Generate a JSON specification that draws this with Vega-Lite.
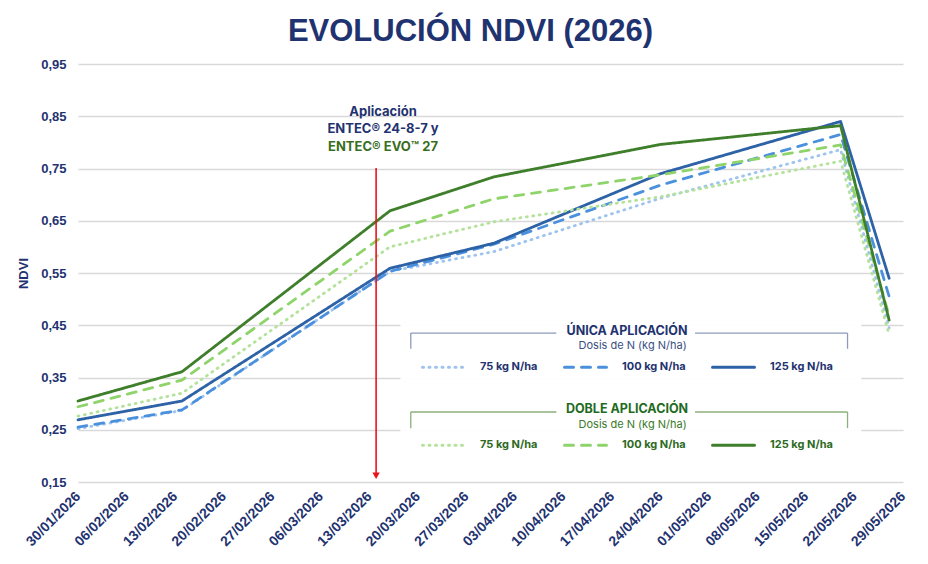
{
  "$schema": "https://vega.github.io/schema/vega-lite/v6.json",
  "description": "Evolución del NDVI en 2026 según dosis de N y número de aplicaciones.",
  "width": 825,
  "height": 418,
  "autosize": "none",
  "padding": {"left": 78, "top": 64, "right": 25, "bottom": 82},
  "background": "white",
  "title": {
    "text": "EVOLUCIÓN NDVI (2026)",
    "font": "Liberation Sans, Arial, sans-serif",
    "fontSize": 31,
    "fontWeight": "bold",
    "color": "#1f3370",
    "anchor": "middle",
    "offset": 10,
    "dx": -20
  },
  "config": {
    "view": {"stroke": null},
    "font": "Inter"
  },
  "datasets": {
    "ndvi": [
      {"fecha": "2026-01-30", "ndvi": 0.252, "grupo": "unica", "dosis": "75 kg N/ha"},
      {"fecha": "2026-02-14", "ndvi": 0.287, "grupo": "unica", "dosis": "75 kg N/ha"},
      {"fecha": "2026-03-16", "ndvi": 0.553, "grupo": "unica", "dosis": "75 kg N/ha"},
      {"fecha": "2026-03-31", "ndvi": 0.591, "grupo": "unica", "dosis": "75 kg N/ha"},
      {"fecha": "2026-04-24", "ndvi": 0.693, "grupo": "unica", "dosis": "75 kg N/ha"},
      {"fecha": "2026-05-20", "ndvi": 0.786, "grupo": "unica", "dosis": "75 kg N/ha"},
      {"fecha": "2026-05-27", "ndvi": 0.445, "grupo": "unica", "dosis": "75 kg N/ha"},
      {"fecha": "2026-01-30", "ndvi": 0.255, "grupo": "unica", "dosis": "100 kg N/ha"},
      {"fecha": "2026-02-14", "ndvi": 0.288, "grupo": "unica", "dosis": "100 kg N/ha"},
      {"fecha": "2026-03-16", "ndvi": 0.553, "grupo": "unica", "dosis": "100 kg N/ha"},
      {"fecha": "2026-03-31", "ndvi": 0.605, "grupo": "unica", "dosis": "100 kg N/ha"},
      {"fecha": "2026-04-24", "ndvi": 0.718, "grupo": "unica", "dosis": "100 kg N/ha"},
      {"fecha": "2026-05-20", "ndvi": 0.815, "grupo": "unica", "dosis": "100 kg N/ha"},
      {"fecha": "2026-05-27", "ndvi": 0.505, "grupo": "unica", "dosis": "100 kg N/ha"},
      {"fecha": "2026-01-30", "ndvi": 0.269, "grupo": "unica", "dosis": "125 kg N/ha"},
      {"fecha": "2026-02-14", "ndvi": 0.305, "grupo": "unica", "dosis": "125 kg N/ha"},
      {"fecha": "2026-03-16", "ndvi": 0.559, "grupo": "unica", "dosis": "125 kg N/ha"},
      {"fecha": "2026-03-31", "ndvi": 0.607, "grupo": "unica", "dosis": "125 kg N/ha"},
      {"fecha": "2026-04-24", "ndvi": 0.740, "grupo": "unica", "dosis": "125 kg N/ha"},
      {"fecha": "2026-05-20", "ndvi": 0.840, "grupo": "unica", "dosis": "125 kg N/ha"},
      {"fecha": "2026-05-27", "ndvi": 0.540, "grupo": "unica", "dosis": "125 kg N/ha"},
      {"fecha": "2026-01-30", "ndvi": 0.276, "grupo": "doble", "dosis": "75 kg N/ha"},
      {"fecha": "2026-02-14", "ndvi": 0.320, "grupo": "doble", "dosis": "75 kg N/ha"},
      {"fecha": "2026-03-16", "ndvi": 0.600, "grupo": "doble", "dosis": "75 kg N/ha"},
      {"fecha": "2026-03-31", "ndvi": 0.648, "grupo": "doble", "dosis": "75 kg N/ha"},
      {"fecha": "2026-04-24", "ndvi": 0.696, "grupo": "doble", "dosis": "75 kg N/ha"},
      {"fecha": "2026-05-20", "ndvi": 0.764, "grupo": "doble", "dosis": "75 kg N/ha"},
      {"fecha": "2026-05-27", "ndvi": 0.432, "grupo": "doble", "dosis": "75 kg N/ha"},
      {"fecha": "2026-01-30", "ndvi": 0.294, "grupo": "doble", "dosis": "100 kg N/ha"},
      {"fecha": "2026-02-14", "ndvi": 0.345, "grupo": "doble", "dosis": "100 kg N/ha"},
      {"fecha": "2026-03-16", "ndvi": 0.630, "grupo": "doble", "dosis": "100 kg N/ha"},
      {"fecha": "2026-03-31", "ndvi": 0.692, "grupo": "doble", "dosis": "100 kg N/ha"},
      {"fecha": "2026-04-24", "ndvi": 0.738, "grupo": "doble", "dosis": "100 kg N/ha"},
      {"fecha": "2026-05-20", "ndvi": 0.795, "grupo": "doble", "dosis": "100 kg N/ha"},
      {"fecha": "2026-05-27", "ndvi": 0.468, "grupo": "doble", "dosis": "100 kg N/ha"},
      {"fecha": "2026-01-30", "ndvi": 0.305, "grupo": "doble", "dosis": "125 kg N/ha"},
      {"fecha": "2026-02-14", "ndvi": 0.361, "grupo": "doble", "dosis": "125 kg N/ha"},
      {"fecha": "2026-03-16", "ndvi": 0.669, "grupo": "doble", "dosis": "125 kg N/ha"},
      {"fecha": "2026-03-31", "ndvi": 0.734, "grupo": "doble", "dosis": "125 kg N/ha"},
      {"fecha": "2026-04-24", "ndvi": 0.796, "grupo": "doble", "dosis": "125 kg N/ha"},
      {"fecha": "2026-05-20", "ndvi": 0.832, "grupo": "doble", "dosis": "125 kg N/ha"},
      {"fecha": "2026-05-27", "ndvi": 0.460, "grupo": "doble", "dosis": "125 kg N/ha"}
    ],
    "fondo_leyenda": [
      {"fecha": "2026-03-17T12:00:00Z", "fecha2": "2026-05-23", "ndvi": 0.483, "ndvi2": 0.161}
    ],
    "corchetes": [
      {"fecha": "2026-03-19", "fecha2": "2026-04-09", "ndvi": 0.435, "ndvi2": 0.435, "grupo": "unica"},
      {"fecha": "2026-04-29", "fecha2": "2026-05-21", "ndvi": 0.435, "ndvi2": 0.435, "grupo": "unica"},
      {"fecha": "2026-03-19", "fecha2": "2026-03-19", "ndvi": 0.435, "ndvi2": 0.405, "grupo": "unica"},
      {"fecha": "2026-05-21", "fecha2": "2026-05-21", "ndvi": 0.435, "ndvi2": 0.405, "grupo": "unica"},
      {"fecha": "2026-03-19", "fecha2": "2026-04-09", "ndvi": 0.284, "ndvi2": 0.284, "grupo": "doble"},
      {"fecha": "2026-04-29", "fecha2": "2026-05-21", "ndvi": 0.284, "ndvi2": 0.284, "grupo": "doble"},
      {"fecha": "2026-03-19", "fecha2": "2026-03-19", "ndvi": 0.284, "ndvi2": 0.253, "grupo": "doble"},
      {"fecha": "2026-05-21", "fecha2": "2026-05-21", "ndvi": 0.284, "ndvi2": 0.253, "grupo": "doble"}
    ],
    "aplicacion": [
      {"fecha": "2026-03-14", "ndvi": 0.751, "ndvi2": 0.162}
    ],
    "nota": [
      {"fecha": "2026-03-15", "ndvi": 0.858, "texto": "Aplicación", "tono": "azul"},
      {"fecha": "2026-03-15", "ndvi": 0.825, "texto": "ENTEC® 24-8-7 y", "tono": "azul"},
      {"fecha": "2026-03-15", "ndvi": 0.791, "texto": "ENTEC® EVO™ 27", "tono": "verde"}
    ],
    "subtitulos": [
      {"fecha": "2026-04-20", "ndvi": 0.410, "texto": "Dosis de N (kg N/ha)", "tono": "azul"},
      {"fecha": "2026-04-20", "ndvi": 0.259, "texto": "Dosis de N (kg N/ha)", "tono": "verde"}
    ]
  },
  "encoding": {
    "x": {
      "field": "fecha",
      "type": "temporal",
      "title": null,
      "scale": {
        "type": "utc",
        "domain": [
          {"year": 2026, "month": 1, "date": 30, "utc": true},
          {"year": 2026, "month": 5, "date": 29, "utc": true}
        ]
      },
      "axis": {
        "values": [
          {"year": 2026, "month": 1, "date": 30, "utc": true},
          {"year": 2026, "month": 2, "date": 6, "utc": true},
          {"year": 2026, "month": 2, "date": 13, "utc": true},
          {"year": 2026, "month": 2, "date": 20, "utc": true},
          {"year": 2026, "month": 2, "date": 27, "utc": true},
          {"year": 2026, "month": 3, "date": 6, "utc": true},
          {"year": 2026, "month": 3, "date": 13, "utc": true},
          {"year": 2026, "month": 3, "date": 20, "utc": true},
          {"year": 2026, "month": 3, "date": 27, "utc": true},
          {"year": 2026, "month": 4, "date": 3, "utc": true},
          {"year": 2026, "month": 4, "date": 10, "utc": true},
          {"year": 2026, "month": 4, "date": 17, "utc": true},
          {"year": 2026, "month": 4, "date": 24, "utc": true},
          {"year": 2026, "month": 5, "date": 1, "utc": true},
          {"year": 2026, "month": 5, "date": 8, "utc": true},
          {"year": 2026, "month": 5, "date": 15, "utc": true},
          {"year": 2026, "month": 5, "date": 22, "utc": true},
          {"year": 2026, "month": 5, "date": 29, "utc": true}
        ],
        "format": "%d/%m/%Y",
        "labelAngle": -45,
        "labelAlign": "right",
        "labelBaseline": "middle",
        "labelPadding": 12,
        "labelFont": "Liberation Sans, Arial, sans-serif",
        "labelFontSize": 14,
        "labelFontWeight": "bold",
        "labelColor": "#1f3370",
        "labelOverlap": false,
        "labelBound": false,
        "labelFlush": false,
        "grid": false,
        "domain": false,
        "ticks": false
      }
    },
    "y": {
      "field": "ndvi",
      "type": "quantitative",
      "title": "NDVI",
      "scale": {"domain": [0.15, 0.95], "nice": false, "zero": false},
      "axis": {
        "values": [0.15, 0.25, 0.35, 0.45, 0.55, 0.65, 0.75, 0.85, 0.95],
        "labelExpr": "replace(format(datum.value, '.2f'), '.', ',')",
        "labelFont": "Liberation Sans, Arial, sans-serif",
        "labelFontSize": 13,
        "labelFontWeight": "bold",
        "labelColor": "#1f3370",
        "labelPadding": 12,
        "titleFont": "Liberation Sans, Arial, sans-serif",
        "titleFontSize": 13,
        "titleFontWeight": "bold",
        "titleColor": "#1f3370",
        "titlePadding": 10,
        "grid": true,
        "gridColor": "#d9d9d9",
        "gridWidth": 1.5,
        "domain": false,
        "ticks": false
      }
    }
  },
  "layer": [
    {
      "data": {"name": "fondo_leyenda"},
      "mark": {"type": "rect", "fill": "white", "opacity": 0.93},
      "encoding": {
        "x2": {"field": "fecha2"},
        "y2": {"field": "ndvi2"}
      }
    },
    {
      "data": {"name": "ndvi"},
      "transform": [{"filter": "datum.grupo === 'unica'"}],
      "mark": {"type": "line", "strokeWidth": 2.8, "strokeCap": "round", "strokeJoin": "round"},
      "encoding": {
        "color": {
          "field": "dosis",
          "type": "nominal",
          "sort": ["75 kg N/ha", "100 kg N/ha", "125 kg N/ha"],
          "scale": {
            "domain": ["75 kg N/ha", "100 kg N/ha", "125 kg N/ha"],
            "range": ["#9ec3ee", "#4a90dc", "#2e62a6"]
          },
          "legend": {
            "title": "ÚNICA APLICACIÓN",
            "orient": "none",
            "legendX": 343,
            "legendY": 261,
            "direction": "horizontal",
            "columns": 3,
            "symbolType": "stroke",
            "symbolSize": 1764,
            "symbolStrokeWidth": 3,
            "labelFont": "Inter",
            "labelFontSize": 11,
            "labelFontWeight": "bold",
            "labelColor": "#1f3370",
            "labelOffset": 14,
            "labelLimit": 200,
            "columnPadding": 20,
            "titleFont": "Inter",
            "titleFontSize": 12.5,
            "titleFontWeight": "bold",
            "titleColor": "#1f3370",
            "titleAnchor": "middle",
            "titlePadding": 7,
            "padding": 0,
            "encode": {
              "symbols": {
                "update": {
                  "strokeCap": {"value": "round"},
                  "stroke": [
                    {"test": "datum.value === '75 kg N/ha'", "value": "#4c9be3"},
                    {"test": "datum.value === '125 kg N/ha'", "value": "#1f3a7a"},
                    {"value": "#3c8ddd"}
                  ]
                }
              }
            }
          }
        },
        "strokeDash": {
          "field": "dosis",
          "type": "nominal",
          "sort": ["75 kg N/ha", "100 kg N/ha", "125 kg N/ha"],
          "scale": {
            "domain": ["75 kg N/ha", "100 kg N/ha", "125 kg N/ha"],
            "range": [[1, 5.5], [9, 8], [1, 0]]
          },
          "legend": {
            "title": "ÚNICA APLICACIÓN",
            "orient": "none",
            "legendX": 343,
            "legendY": 261,
            "direction": "horizontal",
            "columns": 3,
            "symbolType": "stroke",
            "symbolSize": 1764,
            "symbolStrokeWidth": 3,
            "labelFont": "Inter",
            "labelFontSize": 11,
            "labelFontWeight": "bold",
            "labelColor": "#1f3370",
            "labelOffset": 14,
            "labelLimit": 200,
            "columnPadding": 20,
            "titleFont": "Inter",
            "titleFontSize": 12.5,
            "titleFontWeight": "bold",
            "titleColor": "#1f3370",
            "titleAnchor": "middle",
            "titlePadding": 7,
            "padding": 0,
            "encode": {
              "symbols": {
                "update": {
                  "strokeCap": {"value": "round"},
                  "stroke": [
                    {"test": "datum.value === '75 kg N/ha'", "value": "#4c9be3"},
                    {"test": "datum.value === '125 kg N/ha'", "value": "#1f3a7a"},
                    {"value": "#3c8ddd"}
                  ]
                }
              }
            }
          }
        }
      }
    },
    {
      "data": {"name": "ndvi"},
      "transform": [{"filter": "datum.grupo === 'doble'"}],
      "mark": {"type": "line", "strokeWidth": 2.8, "strokeCap": "round", "strokeJoin": "round"},
      "encoding": {
        "color": {
          "field": "dosis",
          "type": "nominal",
          "sort": ["75 kg N/ha", "100 kg N/ha", "125 kg N/ha"],
          "scale": {
            "domain": ["75 kg N/ha", "100 kg N/ha", "125 kg N/ha"],
            "range": ["#b3e29a", "#8fd46a", "#3f7f2b"]
          },
          "legend": {
            "title": "DOBLE APLICACIÓN",
            "orient": "none",
            "legendX": 343,
            "legendY": 339,
            "direction": "horizontal",
            "columns": 3,
            "symbolType": "stroke",
            "symbolSize": 1764,
            "symbolStrokeWidth": 3,
            "labelFont": "Inter",
            "labelFontSize": 11,
            "labelFontWeight": "bold",
            "labelColor": "#2d6a1e",
            "labelOffset": 14,
            "labelLimit": 200,
            "columnPadding": 20,
            "titleFont": "Inter",
            "titleFontSize": 12.5,
            "titleFontWeight": "bold",
            "titleColor": "#1f6b1f",
            "titleAnchor": "middle",
            "titlePadding": 7,
            "padding": 0,
            "encode": {
              "symbols": {
                "update": {
                  "strokeCap": {"value": "round"},
                  "stroke": [
                    {"test": "datum.value === '75 kg N/ha'", "value": "#8ed06a"},
                    {"test": "datum.value === '125 kg N/ha'", "value": "#1f6b1f"},
                    {"value": "#7cc655"}
                  ]
                }
              }
            }
          }
        },
        "strokeDash": {
          "field": "dosis",
          "type": "nominal",
          "sort": ["75 kg N/ha", "100 kg N/ha", "125 kg N/ha"],
          "scale": {
            "domain": ["75 kg N/ha", "100 kg N/ha", "125 kg N/ha"],
            "range": [[1, 5.5], [9, 8], [1, 0]]
          },
          "legend": {
            "title": "DOBLE APLICACIÓN",
            "orient": "none",
            "legendX": 343,
            "legendY": 339,
            "direction": "horizontal",
            "columns": 3,
            "symbolType": "stroke",
            "symbolSize": 1764,
            "symbolStrokeWidth": 3,
            "labelFont": "Inter",
            "labelFontSize": 11,
            "labelFontWeight": "bold",
            "labelColor": "#2d6a1e",
            "labelOffset": 14,
            "labelLimit": 200,
            "columnPadding": 20,
            "titleFont": "Inter",
            "titleFontSize": 12.5,
            "titleFontWeight": "bold",
            "titleColor": "#1f6b1f",
            "titleAnchor": "middle",
            "titlePadding": 7,
            "padding": 0,
            "encode": {
              "symbols": {
                "update": {
                  "strokeCap": {"value": "round"},
                  "stroke": [
                    {"test": "datum.value === '75 kg N/ha'", "value": "#8ed06a"},
                    {"test": "datum.value === '125 kg N/ha'", "value": "#1f6b1f"},
                    {"value": "#7cc655"}
                  ]
                }
              }
            }
          }
        }
      }
    },
    {
      "data": {"name": "corchetes"},
      "mark": {"type": "rule", "strokeWidth": 1.3},
      "encoding": {
        "x2": {"field": "fecha2"},
        "y2": {"field": "ndvi2"},
        "color": {
          "condition": {"test": "datum.grupo === 'doble'", "value": "#8db07c"},
          "value": "#8c9bbb"
        }
      }
    },
    {
      "data": {"name": "aplicacion"},
      "mark": {"type": "rule", "color": "#e8141c", "strokeWidth": 1.6},
      "encoding": {
        "y2": {"field": "ndvi2"}
      }
    },
    {
      "data": {"name": "aplicacion"},
      "mark": {"type": "point", "shape": "triangle-down", "filled": true, "color": "#e8141c", "size": 55, "opacity": 1},
      "encoding": {
        "y": {"field": "ndvi2", "type": "quantitative"}
      }
    },
    {
      "data": {"name": "nota"},
      "mark": {"type": "text", "font": "Inter", "fontSize": 13, "fontWeight": "bold", "align": "center", "baseline": "middle"},
      "encoding": {
        "text": {"field": "texto"},
        "color": {
          "condition": {"test": "datum.tono === 'verde'", "value": "#3a6e1f"},
          "value": "#1f3370"
        }
      }
    },
    {
      "data": {"name": "subtitulos"},
      "mark": {"type": "text", "font": "Inter", "fontSize": 11, "align": "center", "baseline": "middle"},
      "encoding": {
        "text": {"field": "texto"},
        "color": {
          "condition": {"test": "datum.tono === 'verde'", "value": "#3a7a2a"},
          "value": "#3b4f84"
        }
      }
    }
  ],
  "resolve": {"scale": {"color": "independent", "strokeDash": "independent"}}
}
